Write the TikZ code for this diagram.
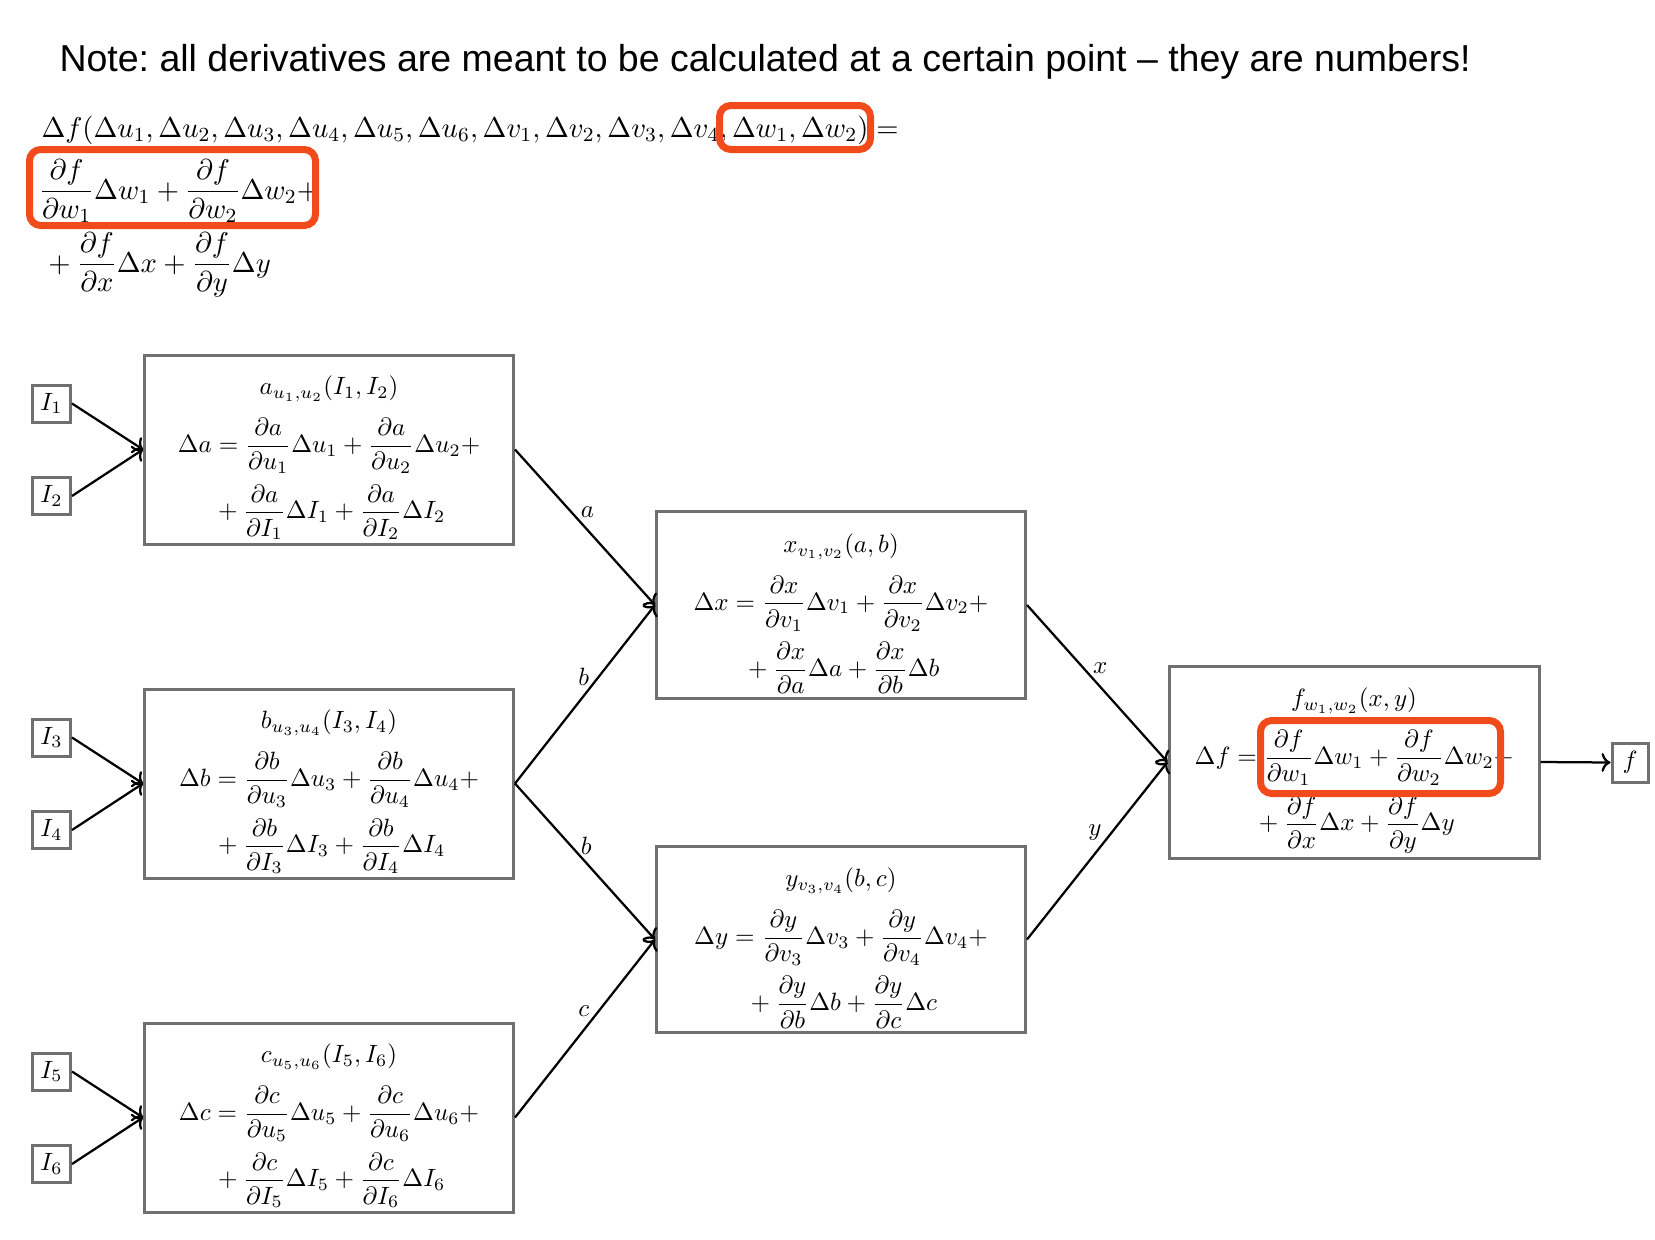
\RequirePackage{fix-cm}
\documentclass[tikz,border=0pt]{standalone}
\usepackage[no-math]{fontspec}
\newfontfamily\titlefont{Liberation Sans}
\usetikzlibrary{arrows.meta}
\definecolor{boxgray}{RGB}{112,112,112}
\definecolor{hl}{RGB}{241,75,28}
\tikzset{
  fnbox/.style={draw=boxgray, line width=1.2pt, inner sep=0pt},
  bigbox/.style={fnbox, minimum width=147.6pt, minimum height=75.6pt},
  midbox/.style={fnbox, minimum width=147.6pt, minimum height=74.6pt},
  inbox/.style={fnbox, minimum width=15.2pt, minimum height=14.8pt},
  conn/.style={->, line width=0.9pt},
  lbl/.style={inner sep=0pt},
  boxtext/.style={align=center, inner sep=0pt, yshift=-3.4pt},
  eqline/.style={anchor=base west, inner sep=0pt, font=\fontsize{11.45}{14}\selectfont},
  redmark/.style={draw=hl, line width=2.8pt, rounded corners=4.5pt},
}
\begin{document}
\frenchspacing
\begin{tikzpicture}[x=0.4pt,y=-0.4pt]
\useasboundingbox (0,0) rectangle (1655,1240);
\fill[white] (0,0) rectangle (1655,1240);

% title
\node[anchor=base west, inner sep=0pt, font=\titlefont\fontsize{15}{18}\selectfont] (note) at (59,71)
  {Note: all derivatives are meant to be calculated at a certain point – they are numbers!};

% top formula
\node[eqline] (eq1) at (41,137)
  {$\Delta f(\Delta u_1,\Delta u_2,\Delta u_3,\Delta u_4,\Delta u_5,\Delta u_6,\Delta v_1,\Delta v_2,\Delta v_3,\Delta v_4,\Delta w_1,\Delta w_2)=$};
\node[eqline] (eq2) at (38.5,199)
  {$\displaystyle\frac{\partial f}{\partial w_1}\Delta w_1+\frac{\partial f}{\partial w_2}\Delta w_2+$};
\node[eqline] (eq3) at (41.5,272)
  {$\displaystyle{}+\frac{\partial f}{\partial x}\Delta x+\frac{\partial f}{\partial y}\Delta y$};

% boxes
\node[bigbox] (a) at (329,449.5) {};
\node[bigbox] (b) at (329,783.5) {};
\node[bigbox] (c) at (329,1117.5) {};
\node[midbox] (x) at (841,605) {};
\node[midbox] (y) at (841,939.5) {};
\node[fnbox, minimum width=148pt, minimum height=76.8pt] (f) at (1354,762) {};

\node[boxtext] (ta) at (a.center)
  {$a_{u_1,u_2}(I_1,I_2)$\\[5.6pt]
   $\displaystyle\Delta a=\frac{\partial a}{\partial u_1}\Delta u_1+\frac{\partial a}{\partial u_2}\Delta u_2+$\\[3.4pt]
   $\displaystyle{}+\frac{\partial a}{\partial I_1}\Delta I_1+\frac{\partial a}{\partial I_2}\Delta I_2$};
\node[boxtext] (tb) at (b.center)
  {$b_{u_3,u_4}(I_3,I_4)$\\[5.6pt]
   $\displaystyle\Delta b=\frac{\partial b}{\partial u_3}\Delta u_3+\frac{\partial b}{\partial u_4}\Delta u_4+$\\[3.4pt]
   $\displaystyle{}+\frac{\partial b}{\partial I_3}\Delta I_3+\frac{\partial b}{\partial I_4}\Delta I_4$};
\node[boxtext] (tc) at (c.center)
  {$c_{u_5,u_6}(I_5,I_6)$\\[5.6pt]
   $\displaystyle\Delta c=\frac{\partial c}{\partial u_5}\Delta u_5+\frac{\partial c}{\partial u_6}\Delta u_6+$\\[3.4pt]
   $\displaystyle{}+\frac{\partial c}{\partial I_5}\Delta I_5+\frac{\partial c}{\partial I_6}\Delta I_6$};
\node[boxtext] (tx) at (x.center)
  {$x_{v_1,v_2}(a,b)$\\[5.6pt]
   $\displaystyle\Delta x=\frac{\partial x}{\partial v_1}\Delta v_1+\frac{\partial x}{\partial v_2}\Delta v_2+$\\[3.4pt]
   $\displaystyle{}+\frac{\partial x}{\partial a}\Delta a+\frac{\partial x}{\partial b}\Delta b$};
\node[boxtext] (ty) at (y.center)
  {$y_{v_3,v_4}(b,c)$\\[5.6pt]
   $\displaystyle\Delta y=\frac{\partial y}{\partial v_3}\Delta v_3+\frac{\partial y}{\partial v_4}\Delta v_4+$\\[3.4pt]
   $\displaystyle{}+\frac{\partial y}{\partial b}\Delta b+\frac{\partial y}{\partial c}\Delta c$};
\node[boxtext] (tf) at (f.center)
  {$f_{w_1,w_2}(x,y)$\\[5.6pt]
   $\displaystyle\Delta f=\frac{\partial f}{\partial w_1}\Delta w_1+\frac{\partial f}{\partial w_2}\Delta w_2+$\\[3.4pt]
   $\displaystyle{}+\frac{\partial f}{\partial x}\Delta x+\frac{\partial f}{\partial y}\Delta y$};

% inputs
\node[inbox] (I1) at (51.5,403.5) {$I_1$};
\node[inbox] (I2) at (51.5,496) {$I_2$};
\node[inbox] (I3) at (51.5,737.5) {$I_3$};
\node[inbox] (I4) at (51.5,830) {$I_4$};
\node[inbox] (I5) at (51.5,1071.5) {$I_5$};
\node[inbox] (I6) at (51.5,1164) {$I_6$};
\node[fnbox, minimum width=14.4pt, minimum height=15.6pt] (fout) at (1630,762.5) {$f$};

% connectors
\draw[conn] (I1.east) -- (a.west);
\draw[conn] (I2.east) -- (a.west);
\draw[conn] (I3.east) -- (b.west);
\draw[conn] (I4.east) -- (b.west);
\draw[conn] (I5.east) -- (c.west);
\draw[conn] (I6.east) -- (c.west);
\draw[conn] (a.east) -- node[lbl, pos=0.4, right=3.5pt] (la) {$a$} (x.west);
\draw[conn] (b.east) -- node[lbl, pos=0.6, left=3.5pt] (lb1) {$b$} (x.west);
\draw[conn] (b.east) -- node[lbl, pos=0.4, right=3.5pt] (lb2) {$b$} (y.west);
\draw[conn] (c.east) -- node[lbl, pos=0.6, left=3.5pt] (lc) {$c$} (y.west);
\draw[conn] (x.east) -- node[lbl, pos=0.4, right=3.5pt] (lx) {$x$} (f.west);
\draw[conn] (y.east) -- node[lbl, pos=0.6, left=3.5pt] (ly) {$y$} (f.west);
\draw[conn] (f.east) -- (fout.west);

% highlights
\draw[redmark] (719.5,105.5) rectangle (870.5,149.5);
\draw[redmark] (29.5,149.5) rectangle (315.5,225.5);
\draw[redmark] (1260.5,720.5) rectangle (1500.5,793.5);
\end{tikzpicture}
\end{document}
